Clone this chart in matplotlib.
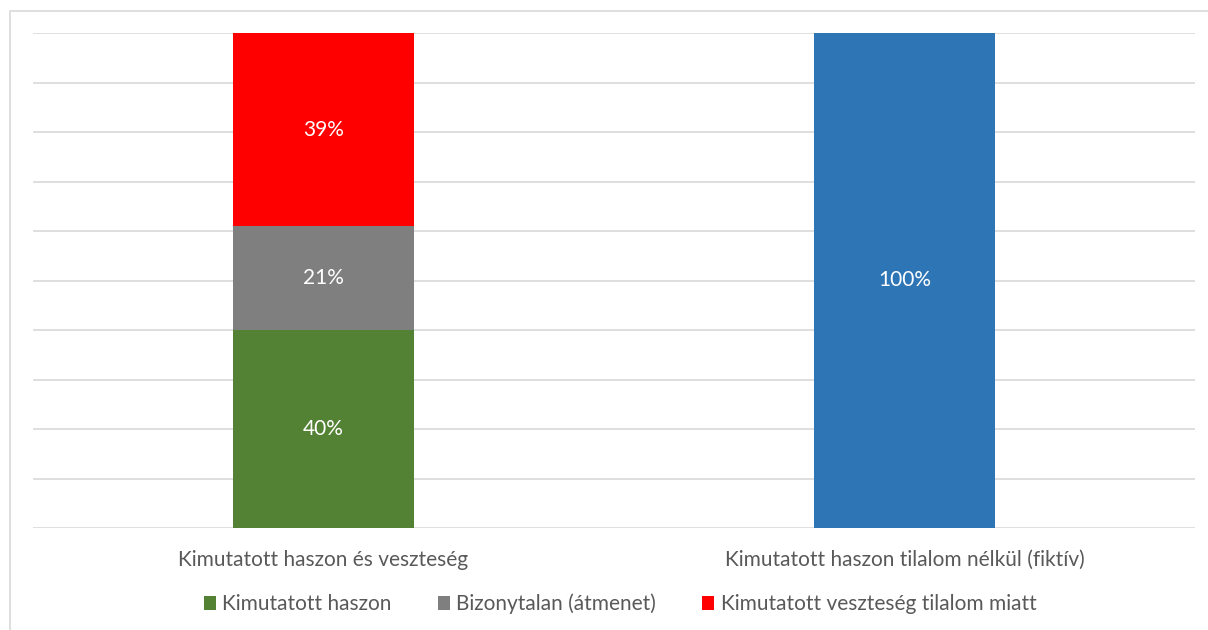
import matplotlib.pyplot as plt
from matplotlib.patches import Rectangle, Patch
import numpy as np

categories = ["Kimutatott haszon és veszteség", "Kimutatott haszon tilalom nélkül (fiktív)"]
series_names = ["Kimutatott haszon", "Bizonytalan (átmenet)", "Kimutatott veszteség tilalom miatt"]
profit = [40, 0]
uncertain = [21, 0]
loss = [39, 0]
fictive = [0, 100]

colors = ["#548235", "#7F7F7F", "#FF0000"]
fictive_color = "#2E75B6"
text_color = "#595959"

plt.rcParams["font.family"] = ["Lato", "DejaVu Sans"]

fig = plt.figure(figsize=(12.08, 6.30), dpi=100)
ax = fig.add_axes([33 / 1208, 102 / 630, 1162 / 1208, 495 / 630])

# outer chart frame
fig.patches.append(Rectangle((10 / 1208, -0.05), 1.2, 0.05 + 619 / 630, transform=fig.transFigure,
                             fill=False, edgecolor="#D9D9D9", linewidth=1.2))

x = np.arange(len(categories))
width = 0.31
bottom = np.zeros(len(categories))
for vals, name, col in zip([profit, uncertain, loss], series_names, colors):
    bars = ax.bar(x, vals, width, bottom=bottom, color=col, label=name, zorder=3)
    for b, v in zip(bars, vals):
        if v:
            ax.text(b.get_x() + b.get_width() / 2, b.get_y() + v / 2, f"{v}%",
                    ha="center", va="center", color="white", fontsize=15)
    bottom += np.array(vals)

bars = ax.bar(x, fictive, width, bottom=bottom, color=fictive_color, zorder=3)
for b, v in zip(bars, fictive):
    if v:
        ax.text(b.get_x() + b.get_width() / 2, b.get_y() + v / 2, f"{v}%",
                ha="center", va="center", color="white", fontsize=15)

ax.set_xlim(-0.5, 1.5)
ax.set_ylim(0, 100)
ax.set_yticks(np.arange(0, 101, 10))
ax.yaxis.grid(True, color="#D9D9D9", linewidth=1.2, zorder=0)
ax.set_axisbelow(True)
ax.tick_params(axis="y", left=False, labelleft=False)
ax.tick_params(axis="x", bottom=False, pad=12)
ax.set_xticks(x)
ax.set_xticklabels(categories, fontsize=15, color=text_color)
for s in ax.spines.values():
    s.set_visible(False)

handles = [Patch(facecolor=c, label=n) for c, n in zip(colors, series_names)]
fig.legend(handles=handles, loc="center", bbox_to_anchor=(620 / 1208, 26 / 630), ncol=3, frameon=False,
           fontsize=15, labelcolor=text_color, handlelength=0.6, handleheight=0.6,
           handletextpad=0.3, columnspacing=2.2)

fig.savefig("out.png", dpi=100)
